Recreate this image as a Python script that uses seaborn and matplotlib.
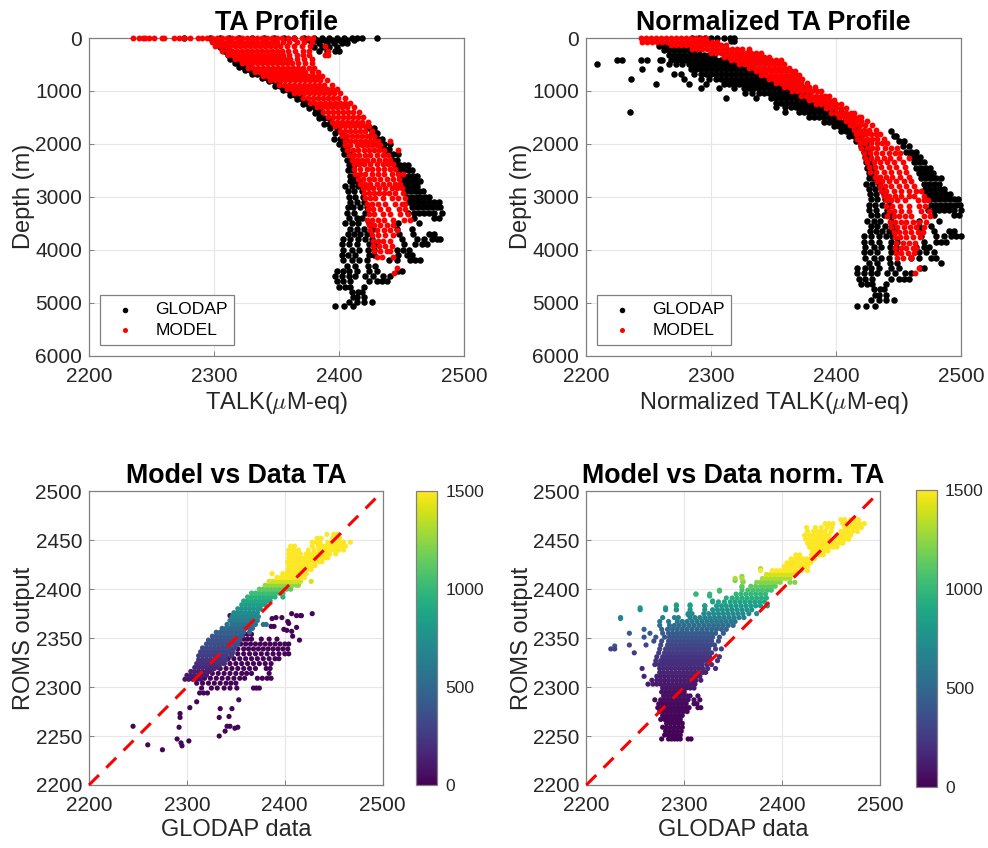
import matplotlib
matplotlib.use("Agg")
import matplotlib.pyplot as plt
import seaborn as sns

# TA profile, GLODAP: one list of TA values per depth level
ta_obs_levels = [0, 40, 100, 170, 240, 330, 400, 470, 540, 610, 680, 750, 820, 900, 990, 1080, 1160, 1240, 1330, 1420,
                 1510, 1620, 1700, 1800, 1900, 2000, 2100, 2200, 2300, 2400, 2500, 2600, 2700, 2800, 2900, 3000, 3100,
                 3200, 3300, 3400, 3500, 3600, 3700, 3800, 3900, 4000, 4100, 4200, 4300, 4400, 4500, 4600, 4700, 4800,
                 4900, 4980, 5060]
ta_obs_rows = [
    [2276, 2297, 2305, 2312, 2320, 2330, 2340, 2348, 2356, 2364, 2372, 2380, 2386, 2392, 2398, 2404, 2410, 2414, 2418, 2430],
    [2300, 2376, 2382, 2388, 2394, 2400, 2406, 2412],
    [2302, 2306, 2378, 2384, 2390, 2396, 2402, 2406],
    [2305, 2309, 2380, 2386, 2392, 2398],
    [2308, 2312, 2384, 2390, 2397, 2400],
    [2311, 2315], [2313, 2316, 2320], [2317, 2321], [2320, 2324, 2327], [2325, 2329, 2333], [2330, 2334, 2338],
    [2338, 2342, 2346], [2344, 2348, 2352], [2349, 2353, 2357], [2355, 2359, 2363], [2361, 2365, 2369],
    [2366, 2370, 2374], [2371, 2375, 2379], [2376, 2381, 2384], [2381, 2385], [2384, 2388, 2392], [2388, 2392],
    [2393, 2398, 2424, 2428], [2397, 2402, 2426, 2430], [2396, 2401, 2405, 2431, 2434],
    [2400, 2404, 2433, 2436, 2441], [2403, 2406, 2436, 2440], [2404, 2408, 2439, 2443, 2447],
    [2406, 2410, 2442, 2446], [2408, 2412, 2445, 2449, 2452, 2455], [2407, 2411, 2447, 2451, 2455, 2458],
    [2409, 2413, 2449, 2452, 2456, 2459, 2462], [2409, 2412, 2416, 2450, 2454, 2458, 2461, 2465],
    [2405, 2410, 2415, 2451, 2455, 2459, 2462], [2407, 2412, 2418, 2453, 2457, 2461, 2464, 2467],
    [2408, 2413, 2419, 2454, 2458, 2462, 2465, 2469, 2472],
    [2409, 2414, 2420, 2456, 2460, 2464, 2468, 2472, 2476, 2480],
    [2407, 2411, 2417, 2422, 2458, 2462, 2466, 2470, 2474, 2478, 2481],
    [2406, 2412, 2421, 2455, 2460, 2464, 2468, 2472, 2476, 2482],
    [2408, 2414, 2418, 2460, 2476, 2480], [2405, 2410, 2415, 2424, 2447, 2464], [2409, 2414, 2420, 2427, 2446, 2458],
    [2407, 2412, 2417, 2422, 2448, 2459, 2472, 2476], [2403, 2409, 2415, 2421, 2426, 2450, 2462, 2468, 2474, 2478, 2481],
    [2402, 2408, 2414, 2424, 2429, 2452, 2461, 2466, 2470], [2403, 2410, 2416, 2423, 2428, 2446, 2451, 2456],
    [2402, 2407, 2413, 2424, 2428, 2447, 2454, 2458], [2403, 2410, 2416, 2422, 2440, 2446, 2457, 2461, 2465],
    [2406, 2413, 2423, 2429], [2398, 2403, 2408, 2414, 2424, 2430, 2447, 2450],
    [2397, 2402, 2408, 2413, 2421, 2427, 2435, 2441], [2398, 2403, 2409, 2424, 2430, 2434, 2438],
    [2400, 2405, 2409, 2420], [2410, 2415, 2418], [2411, 2414, 2420], [2408, 2414, 2420, 2426], [2397, 2404, 2411],
]

# TA profile, model
ta_mod_levels = [0, 80, 160, 240, 320, 400, 480, 560, 640, 720, 800, 880, 960, 1040, 1130, 1220, 1310, 1400, 1490, 1580,
                 1670, 1760, 1850, 1940, 2030, 2120, 2210, 2300, 2390, 2480, 2570, 2660, 2750, 2840, 2930, 3020, 3130,
                 3230, 3330, 3430, 3530, 3630, 3730, 3830, 3930, 4030, 4130, 4340, 4450]
ta_mod_rows = [
    [2235, 2240, 2243, 2245, 2248, 2252, 2258, 2260, 2268, 2272, 2276, 2281, 2287, 2290, 2294, 2298, 2302, 2306, 2310, 2314,
     2318, 2322, 2326, 2330, 2334, 2338, 2342, 2346, 2350, 2354, 2359, 2364, 2370, 2375, 2379],
    [2298, 2302, 2306, 2310, 2314, 2318, 2322, 2326, 2330, 2334, 2338, 2342, 2346, 2350, 2355, 2360, 2366, 2372, 2378],
    [2301, 2305, 2309, 2313, 2317, 2321, 2325, 2329, 2333, 2337, 2341, 2345, 2349, 2353, 2358, 2364, 2370, 2377, 2389],
    [2306, 2310, 2314, 2318, 2322, 2326, 2330, 2334, 2338, 2342, 2346, 2350, 2354, 2359, 2365, 2371, 2376, 2391],
    [2311, 2315, 2319, 2323, 2327, 2331, 2335, 2339, 2343, 2347, 2351, 2355, 2360, 2366, 2371, 2376, 2389, 2391],
    [2317, 2321, 2325, 2329, 2333, 2337, 2341, 2345, 2349, 2353, 2357, 2361, 2366, 2372, 2378],
    [2322, 2326, 2330, 2334, 2338, 2342, 2346, 2350, 2354, 2358, 2362, 2367, 2373, 2378],
    [2327, 2331, 2335, 2339, 2343, 2347, 2351, 2355, 2359, 2363, 2367, 2371, 2376, 2380],
    [2333, 2337, 2341, 2345, 2349, 2353, 2357, 2361, 2365, 2369, 2373, 2378, 2383],
    [2339, 2343, 2347, 2351, 2355, 2359, 2363, 2367, 2371, 2375, 2379, 2383, 2386],
    [2345, 2349, 2353, 2357, 2361, 2365, 2369, 2373, 2377, 2381, 2385, 2390],
    [2352, 2356, 2360, 2364, 2368, 2372, 2376, 2380, 2384, 2388, 2394],
    [2358, 2362, 2366, 2370, 2374, 2378, 2382, 2386, 2390, 2394, 2398],
    [2364, 2368, 2372, 2376, 2380, 2384, 2388, 2392, 2396, 2401],
    [2371, 2375, 2379, 2383, 2387, 2391, 2395, 2399, 2405],
    [2377, 2381, 2385, 2389, 2393, 2397, 2401, 2405, 2409],
    [2382, 2386, 2390, 2394, 2398, 2402, 2406, 2412],
    [2387, 2391, 2395, 2399, 2403, 2407, 2411, 2416],
    [2391, 2395, 2399, 2403, 2407, 2411, 2415, 2419],
    [2394, 2398, 2402, 2406, 2410, 2414, 2418, 2423],
    [2397, 2401, 2405, 2409, 2413, 2417, 2421, 2424],
    [2401, 2405, 2409, 2413, 2417, 2421, 2426],
    [2402, 2406, 2410, 2414, 2418, 2422, 2425, 2428],
    [2405, 2409, 2413, 2417, 2421, 2425, 2428, 2431, 2441],
    [2405, 2409, 2414, 2418, 2422, 2426, 2430, 2433],
    [2406, 2411, 2415, 2420, 2424, 2428, 2432, 2436, 2447],
    [2408, 2412, 2416, 2421, 2425, 2430, 2435, 2439],
    [2410, 2414, 2418, 2422, 2427, 2432, 2437, 2441],
    [2412, 2416, 2420, 2425, 2430, 2435, 2439, 2443],
    [2412, 2417, 2422, 2426, 2431, 2436, 2441, 2445],
    [2413, 2417, 2421, 2426, 2431, 2436, 2442, 2447, 2451],
    [2415, 2419, 2424, 2428, 2433, 2438, 2443, 2448],
    [2417, 2421, 2425, 2430, 2435, 2440, 2445, 2449],
    [2419, 2423, 2427, 2432, 2437, 2442, 2446, 2450],
    [2420, 2424, 2428, 2432, 2436, 2440, 2445, 2451],
    [2421, 2425, 2429, 2435, 2442, 2447, 2453],
    [2422, 2426, 2431, 2437, 2445, 2450, 2453],
    [2423, 2427, 2433, 2439, 2448, 2453],
    [2424, 2428, 2435, 2441, 2449, 2455],
    [2422, 2426, 2431, 2436, 2443, 2452, 2457],
    [2424, 2428, 2433, 2438, 2443],
    [2425, 2430, 2436, 2441, 2446],
    [2426, 2431, 2437, 2443],
    [2427, 2431, 2435, 2441],
    [2427, 2432, 2437, 2442],
    [2428, 2433, 2438, 2441],
    [2430, 2434, 2443],
    [2446], [2444],
]

# normalized TA profile, GLODAP
nta_obs_levels = [0, 60, 150, 230, 320, 410, 500, 590, 680, 770, 860, 950, 1040, 1130, 1220, 1310, 1400, 1490, 1580, 1670,
                  1760, 1850, 1950, 2050, 2150, 2250, 2350, 2450, 2550, 2650, 2750, 2850, 2950, 3050, 3150, 3250, 3350,
                  3450, 3550, 3650, 3750, 3850, 3950, 4050, 4150, 4250, 4350, 4450, 4550, 4650, 4750, 4850, 4950, 5060]
nta_obs_rows = [
    [2285, 2290, 2295, 2300, 2305, 2310, 2315, 2318],
    [2316, 2318],
    [2258, 2262, 2266, 2270, 2274, 2278, 2282],
    [2262, 2266, 2270, 2274, 2278, 2282, 2286, 2290],
    [2266, 2270, 2274, 2278, 2282, 2286, 2290, 2294, 2298, 2302],
    [2225, 2229, 2244, 2249, 2259, 2261, 2268, 2272, 2276, 2280, 2284, 2288, 2292, 2296, 2300, 2304, 2308, 2312],
    [2209, 2266, 2272, 2277, 2282, 2286, 2290, 2294, 2298, 2302, 2306, 2310, 2314, 2318, 2322, 2325],
    [2245, 2259, 2284, 2288, 2292, 2296, 2300, 2304, 2308, 2312, 2316, 2320, 2324, 2328, 2332, 2334],
    [2270, 2276, 2286, 2292, 2296, 2300, 2304, 2308, 2312, 2316, 2320, 2324, 2328, 2332, 2336, 2340, 2342],
    [2236, 2278, 2292, 2298, 2304, 2308, 2312, 2316, 2320, 2324, 2328, 2332, 2336, 2340, 2344, 2348, 2350],
    [2256, 2282, 2296, 2310, 2314, 2318, 2322, 2326, 2330, 2334, 2338, 2342, 2346, 2350, 2354, 2358, 2360],
    [2292, 2306, 2318, 2326, 2330, 2334, 2338, 2342, 2346, 2350, 2354, 2358, 2362, 2366, 2368],
    [2327, 2333, 2338, 2342, 2346, 2350, 2354, 2358, 2362, 2366, 2370, 2374, 2378],
    [2312, 2336, 2348, 2352, 2356, 2360, 2364, 2368, 2372, 2376, 2380, 2384],
    [2352, 2356, 2360, 2364, 2368, 2372, 2376, 2380, 2384, 2388, 2392],
    [2352, 2359, 2364, 2368, 2372, 2376, 2380, 2384, 2388, 2392, 2398],
    [2235, 2359, 2370, 2374, 2378, 2382, 2386, 2390, 2394, 2398, 2404],
    [2378, 2382, 2386, 2390, 2394, 2398, 2402, 2408],
    [2390, 2394, 2398, 2402, 2406, 2412],
    [2398, 2402, 2406, 2410, 2416],
    [2404, 2408, 2412, 2418, 2444],
    [2410, 2414, 2420, 2446, 2448],
    [2416, 2420, 2424, 2450, 2454],
    [2420, 2424, 2453, 2458],
    [2422, 2426, 2456, 2460, 2464],
    [2423, 2427, 2459, 2463, 2467],
    [2424, 2428, 2462, 2466, 2470],
    [2425, 2429, 2464, 2468, 2472, 2475],
    [2426, 2430, 2466, 2470, 2474, 2477],
    [2426, 2430, 2434, 2468, 2472, 2476, 2480, 2484],
    [2424, 2429, 2434, 2470, 2474, 2478, 2482],
    [2426, 2431, 2437, 2471, 2475, 2479, 2483, 2486],
    [2427, 2432, 2438, 2472, 2476, 2480, 2484, 2488, 2491],
    [2428, 2433, 2439, 2474, 2478, 2482, 2486, 2490, 2494, 2497],
    [2426, 2431, 2437, 2442, 2476, 2480, 2484, 2488, 2492, 2496, 2499],
    [2426, 2432, 2441, 2473, 2478, 2482, 2486, 2490, 2494, 2500],
    [2428, 2433, 2438, 2443, 2478, 2494, 2498],
    [2425, 2430, 2435, 2444, 2466, 2482],
    [2428, 2433, 2439, 2445, 2466, 2476],
    [2427, 2432, 2437, 2442, 2447, 2468, 2478, 2490, 2494],
    [2422, 2428, 2434, 2440, 2445, 2468, 2480, 2486, 2492, 2496, 2500],
    [2422, 2428, 2434, 2444, 2449, 2470, 2480, 2484, 2488],
    [2423, 2430, 2436, 2443, 2448, 2464, 2470, 2474],
    [2422, 2427, 2433, 2444, 2448, 2466, 2472, 2478],
    [2423, 2430, 2436, 2442, 2460, 2466, 2476, 2480],
    [2426, 2433, 2443, 2449, 2484],
    [2417, 2423, 2428, 2434, 2444, 2450, 2467, 2470],
    [2417, 2422, 2428, 2433, 2441, 2447, 2455, 2460],
    [2418, 2423, 2429, 2444, 2450, 2454, 2458],
    [2420, 2425, 2429, 2440],
    [2430, 2435, 2438],
    [2431, 2434, 2440],
    [2428, 2434, 2440, 2446],
    [2417, 2424, 2431],
]

# normalized TA profile, model
nta_mod_levels = [0, 70, 140, 210, 280, 350, 420, 490, 560, 630, 700, 770, 850, 930, 1010, 1090, 1170, 1250, 1330, 1410,
                  1490, 1570, 1650, 1730, 1810, 1900, 1990, 2080, 2170, 2260, 2350, 2440, 2530, 2620, 2710, 2800, 2890,
                  2980, 3070, 3170, 3270, 3370, 3470, 3570, 3670, 3770, 3870, 3970, 4070, 4150, 4340, 4450]
nta_mod_rows = [
    [2244, 2248, 2252, 2256, 2260, 2264, 2268, 2272, 2276, 2280, 2284, 2288, 2292, 2296],
    [2245, 2249, 2253, 2257, 2261, 2265, 2269, 2273, 2277, 2281, 2285, 2289, 2293, 2297, 2301, 2305],
    [2268, 2272, 2276, 2280, 2284, 2288, 2292, 2296, 2300, 2304, 2308, 2312],
    [2285, 2289, 2293, 2297, 2301, 2305, 2309, 2313, 2317, 2321, 2325, 2330],
    [2300, 2304, 2308, 2312, 2316, 2320, 2324, 2328, 2332, 2336, 2340],
    [2310, 2314, 2318, 2322, 2326, 2330, 2334, 2338, 2342, 2346],
    [2316, 2320, 2324, 2328, 2332, 2336, 2340, 2344, 2348, 2352, 2356],
    [2322, 2326, 2330, 2334, 2338, 2342, 2346, 2350, 2354, 2358],
    [2330, 2334, 2338, 2342, 2346, 2350, 2354, 2358, 2362],
    [2336, 2340, 2344, 2348, 2352, 2356, 2360, 2364, 2367],
    [2340, 2344, 2348, 2352, 2356, 2360, 2364, 2368, 2370],
    [2346, 2350, 2354, 2358, 2362, 2366, 2370, 2373],
    [2352, 2356, 2360, 2364, 2368, 2372, 2377],
    [2358, 2362, 2366, 2370, 2374, 2378, 2383],
    [2365, 2369, 2373, 2377, 2381, 2385, 2388],
    [2372, 2376, 2380, 2384, 2388, 2391, 2394],
    [2378, 2382, 2386, 2390, 2394, 2398],
    [2384, 2388, 2392, 2396, 2400, 2404],
    [2392, 2396, 2400, 2404, 2408],
    [2396, 2400, 2404, 2408, 2412, 2414],
    [2402, 2406, 2410, 2414, 2418, 2420],
    [2408, 2412, 2416, 2420, 2425],
    [2411, 2415, 2419, 2423, 2429],
    [2414, 2418, 2422, 2426, 2432],
    [2416, 2420, 2424, 2428, 2432, 2435],
    [2417, 2421, 2425, 2429, 2433, 2438],
    [2419, 2423, 2428, 2433, 2437, 2441],
    [2420, 2425, 2429, 2433, 2439, 2444, 2449],
    [2422, 2427, 2432, 2437, 2442, 2447, 2451],
    [2423, 2428, 2433, 2438, 2443, 2450, 2458],
    [2425, 2430, 2435, 2441, 2446, 2453],
    [2426, 2431, 2436, 2442, 2448, 2455],
    [2427, 2432, 2438, 2444, 2450, 2456],
    [2431, 2435, 2440, 2445, 2451, 2458],
    [2433, 2437, 2442, 2448, 2454, 2460],
    [2435, 2439, 2444, 2450, 2456, 2462],
    [2436, 2440, 2446, 2452, 2458, 2464, 2468],
    [2438, 2442, 2447, 2452, 2458, 2462, 2470],
    [2440, 2444, 2449, 2455, 2465, 2470, 2473],
    [2440, 2445, 2451, 2458, 2466, 2471],
    [2442, 2446, 2452, 2458, 2468, 2474],
    [2441, 2446, 2450, 2455, 2460, 2470, 2475],
    [2443, 2447, 2452, 2456, 2461, 2466, 2472],
    [2444, 2449, 2454, 2459, 2464, 2470],
    [2446, 2450, 2455, 2460, 2465, 2469],
    [2447, 2451, 2456, 2461, 2467],
    [2448, 2453, 2458, 2463],
    [2447, 2452, 2456, 2461, 2464],
    [2448, 2452, 2457, 2462],
    [2449, 2453, 2460],
    [2466], [2463],
]

# model vs data TA: shallow band, diagonal cloud and stray points
cmp_band_levels = [2294, 2299, 2304, 2309, 2314, 2319, 2324, 2329, 2334, 2339, 2344, 2349, 2354]
cmp_band_rows = [
    [2313, 2317, 2321],
    [2315, 2325, 2331, 2338, 2344, 2351, 2368, 2371, 2374],
    [2310, 2316, 2322, 2328, 2334, 2340, 2345, 2350],
    [2306, 2312, 2318, 2324, 2330, 2336, 2342, 2348, 2354, 2359, 2372, 2377, 2382, 2386],
    [2314, 2320, 2326, 2332, 2338, 2344, 2350, 2356, 2361, 2366, 2384],
    [2322, 2328, 2334, 2340, 2346, 2352, 2358, 2364, 2370, 2381, 2385],
    [2332, 2338, 2344, 2350, 2356, 2362, 2368, 2374, 2380, 2386],
    [2336, 2342, 2348, 2354, 2360, 2366, 2372, 2378, 2384, 2390, 2394],
    [2340, 2346, 2352, 2358, 2364, 2370, 2376, 2382, 2388, 2394, 2400, 2404],
    [2346, 2352, 2358, 2363, 2368, 2373, 2378, 2383, 2388, 2393, 2398, 2403],
    [2350, 2355, 2360, 2365, 2370, 2375, 2380, 2385, 2390, 2395, 2400, 2404],
    [2354, 2358, 2362, 2366, 2376, 2384, 2392],
    [2358, 2362, 2366],
]
cmp_band_depth = 15

cmp_levels = [2308, 2312, 2316, 2320, 2324, 2328, 2332, 2336, 2340, 2344, 2348, 2352, 2356, 2360, 2364, 2368, 2372, 2376,
              2380, 2384, 2388, 2392, 2396, 2400, 2404, 2408, 2412, 2416, 2420, 2424, 2428, 2432, 2436, 2440, 2444,
              2448, 2452, 2456]
cmp_depths = [90, 110, 140, 170, 200, 230, 260, 290, 320, 350, 380, 410, 450, 500, 560, 620, 680, 720, 770, 830, 890, 950,
              1030, 1130, 1250, 1400, 1500, 1500, 1500, 1500, 1500, 1500, 1500, 1500, 1500, 1500, 1500, 1500]
cmp_rows = [
    [2298, 2302, 2306, 2310, 2314],
    [2300, 2304, 2308, 2312, 2316, 2320],
    [2304, 2308, 2312, 2316, 2320, 2324],
    [2308, 2312, 2316, 2320, 2324, 2328, 2332],
    [2310, 2314, 2318, 2322, 2326, 2330, 2334, 2338],
    [2312, 2316, 2320, 2324, 2328, 2332, 2336, 2340],
    [2312, 2316, 2320, 2324, 2328, 2332, 2336, 2340, 2345],
    [2314, 2318, 2322, 2326, 2330, 2334, 2338, 2342, 2347],
    [2316, 2320, 2324, 2328, 2332, 2336, 2340, 2344, 2349],
    [2320, 2324, 2328, 2332, 2336, 2340, 2344, 2348, 2352],
    [2322, 2326, 2330, 2334, 2338, 2342, 2346, 2350, 2354],
    [2326, 2330, 2334, 2338, 2342, 2346, 2350, 2354, 2356],
    [2330, 2334, 2338, 2342, 2346, 2350, 2354, 2358, 2364],
    [2336, 2340, 2344, 2348, 2352, 2356, 2360, 2364, 2367],
    [2341, 2346, 2350, 2354, 2358, 2362, 2366, 2370, 2378, 2381],
    [2344, 2348, 2352, 2356, 2360, 2364, 2368, 2372],
    [2346, 2350, 2354, 2358, 2362, 2366, 2370, 2373],
    [2348, 2352, 2356, 2360, 2364, 2368, 2372],
    [2352, 2356, 2360, 2364, 2368, 2372, 2375],
    [2356, 2360, 2364, 2368, 2372, 2376, 2380],
    [2358, 2362, 2366, 2370, 2374, 2378, 2382, 2385],
    [2362, 2366, 2370, 2374, 2378, 2382, 2386, 2390, 2398],
    [2366, 2370, 2374, 2378, 2382, 2386, 2390, 2394, 2398],
    [2374, 2378, 2382, 2386, 2390, 2394, 2398, 2402, 2406],
    [2380, 2384, 2388, 2392, 2396, 2400, 2404, 2408, 2412, 2414],
    [2384, 2388, 2392, 2396, 2400, 2404, 2408, 2412, 2416, 2427],
    [2392, 2396, 2400, 2404, 2408, 2412, 2416, 2420],
    [2387, 2398, 2402, 2406, 2410, 2414, 2418, 2422],
    [2403, 2407, 2411, 2415, 2419, 2423, 2427],
    [2404, 2408, 2412, 2416, 2420, 2424, 2428, 2431],
    [2403, 2407, 2411, 2415, 2419, 2423, 2427, 2431, 2435, 2438],
    [2404, 2408, 2412, 2416, 2420, 2424, 2428, 2432, 2436, 2440, 2444],
    [2404, 2408, 2412, 2416, 2422, 2426, 2430, 2434, 2438, 2442, 2446, 2452],
    [2404, 2409, 2414, 2424, 2430, 2435, 2439, 2443, 2447, 2451, 2455, 2460],
    [2406, 2410, 2428, 2434, 2438, 2442, 2446, 2450, 2454, 2458, 2462],
    [2428, 2432, 2436, 2444, 2448, 2452, 2456, 2460, 2467],
    [2433, 2437, 2449, 2453, 2456],
    [2443, 2450, 2454],
]
cmp_stray_x = [2245, 2260, 2275, 2290, 2294, 2295, 2302, 2292, 2293, 2293, 2303, 2310, 2333, 2339, 2341, 2344, 2349, 2352,
               2333, 2343, 2334, 2346, 2353, 2428, 2407, 2412, 2416, 2417, 2397, 2387, 2391, 2403, 2404, 2412, 2399, 2402,
               2407, 2408, 2415, 2389, 2386, 2344]
cmp_stray_y = [2260, 2241, 2236, 2247, 2243, 2240, 2245, 2259, 2273, 2269, 2279, 2285, 2250, 2255, 2260, 2260, 2258, 2259,
               2269, 2270, 2278, 2278, 2287, 2375, 2375, 2373, 2373, 2373, 2371, 2370, 2371, 2367, 2365, 2361, 2359, 2358,
               2357, 2352, 2348, 2362, 2362, 2373]

# model vs data normalized TA
ncmp_levels = [2247, 2251, 2255, 2259, 2263, 2267, 2271, 2275, 2279, 2283, 2287, 2291, 2295, 2299, 2303, 2307, 2311, 2315,
               2319, 2323, 2327, 2331, 2335, 2339, 2343, 2347, 2351, 2355, 2359, 2363, 2367, 2371, 2375, 2379, 2383, 2387,
               2391, 2395, 2399, 2403, 2407, 2411, 2415, 2419, 2423, 2427, 2431, 2435, 2439, 2443, 2447, 2451, 2455, 2459,
               2463, 2467, 2471]
ncmp_depths = [8, 10, 12, 15, 18, 22, 26, 30, 35, 40, 50, 60, 70, 85, 100, 115, 130, 150, 170, 190, 210, 230, 260, 290, 320,
               350, 390, 430, 480, 530, 590, 650, 710, 760, 820, 870, 930, 990, 1060, 1130, 1220, 1310, 1400, 1500, 1500,
               1500, 1500, 1500, 1500, 1500, 1500, 1500, 1500, 1500, 1500, 1500, 1500]
ncmp_rows = [
    [2277, 2284, 2287, 2290, 2293, 2296, 2304, 2307],
    [2280, 2284, 2288, 2292, 2296],
    [2281, 2285, 2289, 2293, 2297],
    [2278, 2282, 2286, 2290, 2294, 2298],
    [2282, 2286, 2290, 2294, 2298],
    [2276, 2280, 2284, 2288, 2292, 2296],
    [2278, 2282, 2286, 2290, 2294, 2298],
    [2275, 2279, 2283, 2287, 2291, 2295, 2299, 2303],
    [2273, 2277, 2281, 2285, 2289, 2293, 2297, 2301, 2305, 2314, 2317],
    [2274, 2278, 2282, 2286, 2290, 2294, 2298, 2302, 2310, 2313],
    [2270, 2276, 2280, 2284, 2288, 2292, 2296, 2300, 2304, 2310, 2316],
    [2279, 2283, 2287, 2291, 2295, 2299, 2303, 2306, 2314],
    [2277, 2281, 2285, 2289, 2293, 2297, 2300],
    [2278, 2282, 2286, 2290, 2294, 2298, 2302, 2306, 2310],
    [2263, 2268, 2272, 2276, 2280, 2284, 2288, 2292, 2296, 2300, 2304, 2308, 2311],
    [2267, 2272, 2276, 2280, 2284, 2288, 2292, 2296, 2300, 2304, 2308, 2312, 2317],
    [2259, 2272, 2276, 2280, 2284, 2288, 2292, 2296, 2300, 2304, 2308, 2312, 2316],
    [2275, 2279, 2283, 2287, 2291, 2295, 2299, 2303, 2307, 2311, 2315, 2319, 2322],
    [2257, 2275, 2279, 2283, 2287, 2291, 2295, 2299, 2303, 2307, 2311, 2315, 2319, 2324, 2332],
    [2270, 2274, 2278, 2282, 2286, 2290, 2294, 2298, 2302, 2306, 2310, 2314, 2318, 2323, 2328],
    [2271, 2276, 2280, 2284, 2288, 2292, 2296, 2300, 2304, 2308, 2312, 2316, 2320, 2324, 2334],
    [2272, 2278, 2282, 2286, 2290, 2294, 2298, 2302, 2306, 2310, 2314, 2318, 2322, 2326, 2336],
    [2249, 2274, 2280, 2284, 2288, 2292, 2296, 2300, 2304, 2308, 2312, 2316, 2320, 2324, 2328],
    [2225, 2229, 2275, 2281, 2285, 2289, 2293, 2297, 2301, 2305, 2309, 2313, 2317, 2321, 2325, 2332, 2338],
    [2244, 2261, 2276, 2283, 2287, 2291, 2295, 2299, 2303, 2307, 2311, 2315, 2319, 2323, 2327, 2331],
    [2269, 2277, 2284, 2288, 2292, 2296, 2300, 2304, 2308, 2312, 2316, 2320, 2324, 2328, 2335],
    [2259, 2271, 2280, 2285, 2289, 2293, 2297, 2301, 2305, 2309, 2313, 2317, 2321, 2325, 2329, 2336],
    [2244, 2265, 2278, 2284, 2288, 2292, 2296, 2300, 2304, 2308, 2312, 2316, 2320, 2324, 2328, 2332, 2340],
    [2259, 2277, 2283, 2288, 2293, 2298, 2303, 2308, 2313, 2318, 2323, 2328, 2333, 2338, 2343],
    [2275, 2285, 2290, 2295, 2300, 2305, 2310, 2315, 2320, 2325, 2330, 2335, 2340, 2345, 2350],
    [2275, 2284, 2293, 2298, 2303, 2308, 2313, 2318, 2323, 2328, 2333, 2338, 2343, 2348, 2352],
    [2235, 2278, 2290, 2294, 2306, 2311, 2316, 2321, 2326, 2331, 2336, 2341, 2346, 2351, 2356, 2361],
    [2304, 2308, 2320, 2325, 2330, 2335, 2340, 2345, 2350, 2355, 2360, 2366, 2374],
    [2255, 2281, 2292, 2306, 2321, 2329, 2334, 2339, 2344, 2349, 2354, 2359, 2364, 2369],
    [2292, 2306, 2321, 2333, 2338, 2343, 2348, 2353, 2358, 2363, 2368, 2373, 2378, 2385],
    [2329, 2335, 2341, 2347, 2352, 2357, 2362, 2367, 2372, 2377, 2382],
    [2343, 2349, 2354, 2359, 2364, 2369, 2374, 2379, 2384],
    [2312, 2326, 2353, 2358, 2363, 2368, 2373, 2378, 2383],
    [2336, 2359, 2365, 2370, 2375, 2380, 2385, 2389],
    [2359, 2368, 2373, 2378, 2382, 2386, 2390, 2393],
    [2360, 2374, 2378, 2382, 2386, 2390, 2394, 2398, 2408, 2413],
    [2352, 2359, 2380, 2384, 2388, 2392, 2396, 2400, 2404, 2408],
    [2384, 2388, 2392, 2396, 2400, 2404, 2408, 2412],
    [2378, 2390, 2394, 2398, 2402, 2406, 2410, 2414, 2420, 2426],
    [2402, 2406, 2410, 2414, 2418, 2422, 2426],
    [2405, 2409, 2413, 2417, 2421, 2425, 2429],
    [2409, 2413, 2417, 2421, 2425, 2429, 2433],
    [2414, 2418, 2430, 2434, 2438, 2442],
    [2431, 2435, 2439, 2443, 2447],
    [2428, 2432, 2436, 2440, 2444, 2448, 2452, 2456],
    [2426, 2430, 2434, 2438, 2442, 2446, 2450, 2454, 2458, 2462],
    [2424, 2428, 2432, 2436, 2440, 2444, 2448, 2456, 2460, 2464, 2468],
    [2423, 2428, 2432, 2436, 2440, 2444, 2448, 2458, 2462, 2466, 2470],
    [2426, 2432, 2436, 2440, 2444, 2450, 2460, 2464, 2468, 2472, 2477],
    [2425, 2434, 2440, 2446, 2451, 2464, 2468, 2472, 2476, 2481],
    [2444, 2448, 2452, 2462, 2466, 2470, 2474, 2479, 2484],
    [2460, 2464, 2470, 2474, 2478],
]
ncmp_stray_x = [2229, 2235, 2255, 2281, 2292, 2292, 2306, 2304, 2312, 2321, 2326, 2329, 2336, 2352, 2359, 2360, 2359, 2378]
ncmp_stray_y = [2342, 2370, 2381, 2381, 2384, 2379, 2384, 2374, 2395, 2383, 2393, 2388, 2398, 2409, 2413, 2408, 2402, 2421]
ncmp_stray_depth = [430, 760, 860, 860, 880, 840, 880, 800, 980, 870, 950, 900, 1000, 1150, 1220, 1180, 1130, 1300]

limits = [2200, 2500]
ta_ticks = [2200, 2300, 2400, 2500]
depth_ticks = [0, 1000, 2000, 3000, 4000, 5000, 6000]
cmp_ticks = [2200, 2250, 2300, 2350, 2400, 2450, 2500]
cbar_ticks = [0, 500, 1000, 1500]

W, H = 988, 848
sns.set_theme(style="white")
plt.rcParams["font.family"] = ["Liberation Sans", "DejaVu Sans"]
plt.rcParams["mathtext.fontset"] = "cm"

TEXT = "#262626"
EDGE = "#808080"


def flatten(levels, rows):
    xs, ys = [], []
    for level, row in zip(levels, rows):
        for x in row:
            xs.append(x)
            ys.append(level)
    return xs, ys


def add_ax(left, top, right, bottom):
    return fig.add_axes([left / W, 1 - bottom / H, (right - left) / W, (bottom - top) / H])


def style_ax(ax, title, xlabel, ylabel):
    ax.set_title(title, fontsize=19.3, fontweight="bold", color="black", pad=6)
    ax.set_xlabel(xlabel, fontsize=17, color=TEXT, labelpad=3)
    ax.set_ylabel(ylabel, fontsize=17, color=TEXT, labelpad=0)
    ax.grid(True, color="#e6e6e6", linewidth=0.8)
    ax.set_axisbelow(True)
    ax.tick_params(direction="in", length=3.5, width=0.7, color=EDGE, labelcolor=TEXT, labelsize=15,
                   bottom=True, left=True)
    ax.tick_params(axis="x", pad=8)
    ax.tick_params(axis="y", pad=5)
    for spine in ax.spines.values():
        spine.set_color(EDGE)
        spine.set_linewidth(0.9)


def draw_profile(ax, obs_levels, obs_rows, mod_levels, mod_rows, title, xlabel):
    ox, oy = flatten(obs_levels, obs_rows)
    mx, my = flatten(mod_levels, mod_rows)
    sns.scatterplot(x=ox, y=oy, color="black", s=22, linewidth=0, clip_on=False, label="GLODAP", ax=ax, zorder=3)
    sns.scatterplot(x=mx, y=my, color="red", s=18, linewidth=0, clip_on=False, label="MODEL", ax=ax, zorder=4)
    ax.set_xlim(limits)
    ax.set_ylim(6000, 0)
    ax.set_xticks(ta_ticks)
    ax.set_yticks(depth_ticks)
    style_ax(ax, title, xlabel, "Depth (m)")
    leg = ax.legend(loc="lower left", bbox_to_anchor=(0.028, 0.034), fontsize=12.6, fancybox=False, framealpha=1,
                    edgecolor=EDGE, borderaxespad=0, handlelength=2.1, handletextpad=0.7, borderpad=0.38,
                    labelspacing=0.32, markerscale=0.85)
    leg.get_frame().set_linewidth(0.9)
    for text in leg.get_texts():
        text.set_color("black")


def draw_compare(ax, cax, xs, ys, depths, title):
    sns.lineplot(x=limits, y=limits, color="red", linewidth=2.2, linestyle=(0, (4.6, 3.4)), ax=ax, zorder=5,
                 clip_on=False)
    sns.scatterplot(x=xs, y=ys, hue=depths, palette="viridis", hue_norm=(0, 1500), s=14, linewidth=0, legend=False,
                    ax=ax, zorder=3)
    ax.set_xlim(limits)
    ax.set_ylim(limits)
    ax.set_xticks(ta_ticks)
    ax.set_yticks(cmp_ticks)
    style_ax(ax, title, "GLODAP data", "ROMS output")
    mappable = plt.cm.ScalarMappable(norm=plt.Normalize(0, 1500), cmap="viridis")
    cbar = fig.colorbar(mappable, cax=cax, ticks=cbar_ticks)
    cbar.ax.tick_params(direction="in", length=3.5, width=0.7, color=EDGE, labelcolor=TEXT, labelsize=12.6, pad=6)
    cbar.outline.set_edgecolor(EDGE)
    cbar.outline.set_linewidth(0.9)


fig = plt.figure(figsize=(W / 100, H / 100), dpi=100)

ax_ta = add_ax(89, 38, 464, 355.5)
draw_profile(ax_ta, ta_obs_levels, ta_obs_rows, ta_mod_levels, ta_mod_rows, "TA Profile", "TALK($\\mu$M-eq)")

ax_nta = add_ax(586, 38, 961.3, 355.5)
draw_profile(ax_nta, nta_obs_levels, nta_obs_rows, nta_mod_levels, nta_mod_rows, "Normalized TA Profile",
             "Normalized TALK($\\mu$M-eq)")

band_x, band_y = flatten(cmp_band_levels, cmp_band_rows)
main_x, main_y = flatten(cmp_levels, cmp_rows)
_, main_d = flatten(cmp_depths, cmp_rows)
cmp_x = cmp_stray_x + band_x + main_x
cmp_y = cmp_stray_y + band_y + main_y
cmp_d = [cmp_band_depth] * (len(cmp_stray_x) + len(band_x)) + main_d
draw_compare(add_ax(89, 491.3, 382.7, 785), add_ax(416, 491.3, 437, 785), cmp_x, cmp_y, cmp_d, "Model vs Data TA")

ncmp_x, ncmp_y = flatten(ncmp_levels, ncmp_rows)
_, ncmp_d = flatten(ncmp_depths, ncmp_rows)
draw_compare(add_ax(586.3, 491.3, 880, 785), add_ax(915.7, 490, 936.7, 787),
             ncmp_stray_x + ncmp_x, ncmp_stray_y + ncmp_y, ncmp_stray_depth + ncmp_d, "Model vs Data norm. TA")

fig.savefig("out.png", dpi=100)
